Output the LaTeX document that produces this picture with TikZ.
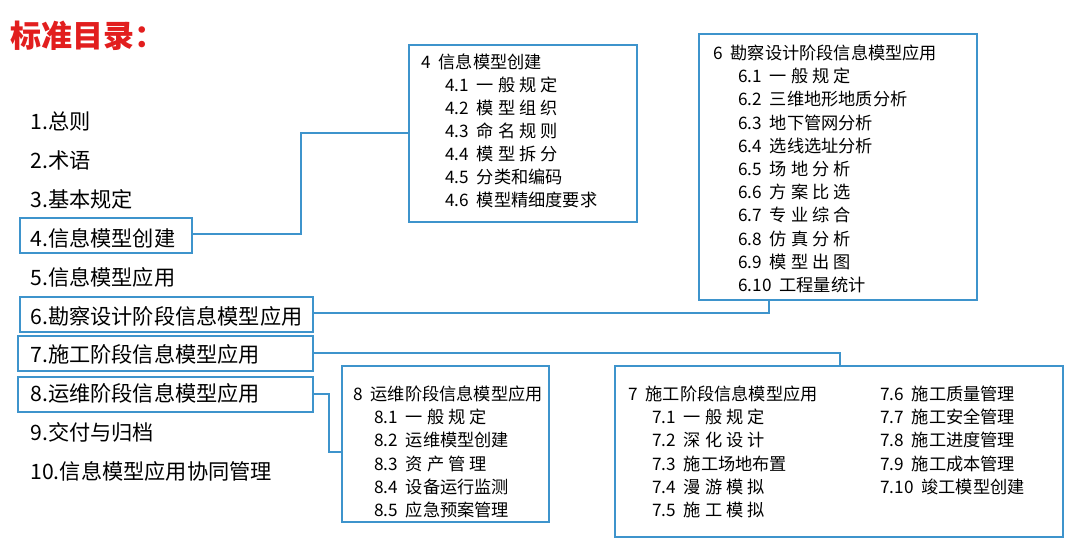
\documentclass[tikz,border=0pt]{standalone}
\usepackage{fontspec}
\setmainfont{Noto Sans CJK SC}
\usetikzlibrary{positioning}
\definecolor{frameblue}{RGB}{62,148,204}
\definecolor{titlered}{RGB}{226,30,30}
\tikzset{
  frame/.style={draw=frameblue,line width=1.3pt},
  link/.style={draw=frameblue,line width=0.8pt},
  entry/.style={anchor=west,inner sep=0pt,font=\fontsize{10.6}{11}\selectfont},
  sub/.style={anchor=west,inner sep=0pt,font=\fontsize{8.6}{9}\selectfont},
}
\begin{document}
\begin{tikzpicture}[x=0.5pt,y=-0.5pt]
  \useasboundingbox (0,0) rectangle (1080,546);
  \node[anchor=west,inner sep=0pt,text=titlered,font=\bfseries\fontsize{15.5}{16}\selectfont] (title) at (10,36) {标准目录：};

  % left list
  \node[entry] (l1) at (30,121) {1.总则};
  \node[entry] (l2) at (30,160) {2.术语};
  \node[entry] (l3) at (30,199) {3.基本规定};
  \node[entry] (l4) at (30,238) {4.信息模型创建};
  \node[entry] (l5) at (30,277) {5.信息模型应用};
  \node[entry] (l6) at (30,316) {6.勘察设计阶段信息模型应用};
  \node[entry] (l7) at (30,354) {7.施工阶段信息模型应用};
  \node[entry] (l8) at (30,393) {8.运维阶段信息模型应用};
  \node[entry] (l9) at (30,432) {9.交付与归档};
  \node[entry] (l10) at (30,471) {10.信息模型应用协同管理};

  \draw[frame] (20,218) rectangle (192,253);
  \draw[frame] (20,297) rectangle (313,332);
  \draw[frame] (18,336) rectangle (313,371);
  \draw[frame] (18,377) rectangle (313,412);

  % chapter 4
  \draw[frame] (409,45) rectangle (637,222);
  \node[sub] (c4) at (421,62) {4\ \ 信息模型创建};
  \foreach \t [count=\i] in {4.1\ \ 一 般 规 定,4.2\ \ 模 型 组 织,4.3\ \ 命 名 规 则,4.4\ \ 模 型 拆 分,4.5\ \ 分类和编码,4.6\ \ 模型精细度要求}
    \node[sub] at (445,62+23*\i) {\t};

  % chapter 6
  \draw[frame] (699,34) rectangle (977,300);
  \node[sub] (c6) at (713,53) {6\ \ 勘察设计阶段信息模型应用};
  \foreach \t [count=\i] in {6.1\ \ 一 般 规 定,6.2\ \ 三维地形地质分析,6.3\ \ 地下管网分析,6.4\ \ 选线选址分析,6.5\ \ 场 地 分 析,6.6\ \ 方 案 比 选,6.7\ \ 专 业 综 合,6.8\ \ 仿 真 分 析,6.9\ \ 模 型 出 图,6.10\ \ 工程量统计}
    \node[sub] at (738,53+23.2*\i) {\t};

  % chapter 8
  \draw[frame] (342,366) rectangle (549,522);
  \node[sub] (c8) at (353,394) {8\ \ 运维阶段信息模型应用};
  \foreach \t [count=\i] in {8.1\ \ 一 般 规 定,8.2\ \ 运维模型创建,8.3\ \ 资 产 管 理,8.4\ \ 设备运行监测,8.5\ \ 应急预案管理}
    \node[sub] at (374,394+23.2*\i) {\t};

  % chapter 7
  \draw[frame] (615,366) rectangle (1063,537);
  \node[sub] (c7) at (628,394) {7\ \ 施工阶段信息模型应用};
  \foreach \t [count=\i] in {7.1\ \ 一 般 规 定,7.2\ \ 深 化 设 计,7.3\ \ 施工场地布置,7.4\ \ 漫 游 模 拟,7.5\ \ 施 工 模 拟}
    \node[sub] at (652,394+23.2*\i) {\t};
  \foreach \t [count=\i from 0] in {7.6\ \ 施工质量管理,7.7\ \ 施工安全管理,7.8\ \ 施工进度管理,7.9\ \ 施工成本管理,7.10\ \ 竣工模型创建}
    \node[sub] at (880,394+23.2*\i) {\t};

  % connectors
  \draw[link] (192,234) -- (301,234) -- (301,133) -- (409,133);
  \draw[link] (313,313) -- (769,313) -- (769,300);
  \draw[link] (313,353) -- (840,353) -- (840,366);
  \draw[link] (313,394) -- (329,394) -- (329,452) -- (342,452);
\end{tikzpicture}
\end{document}
